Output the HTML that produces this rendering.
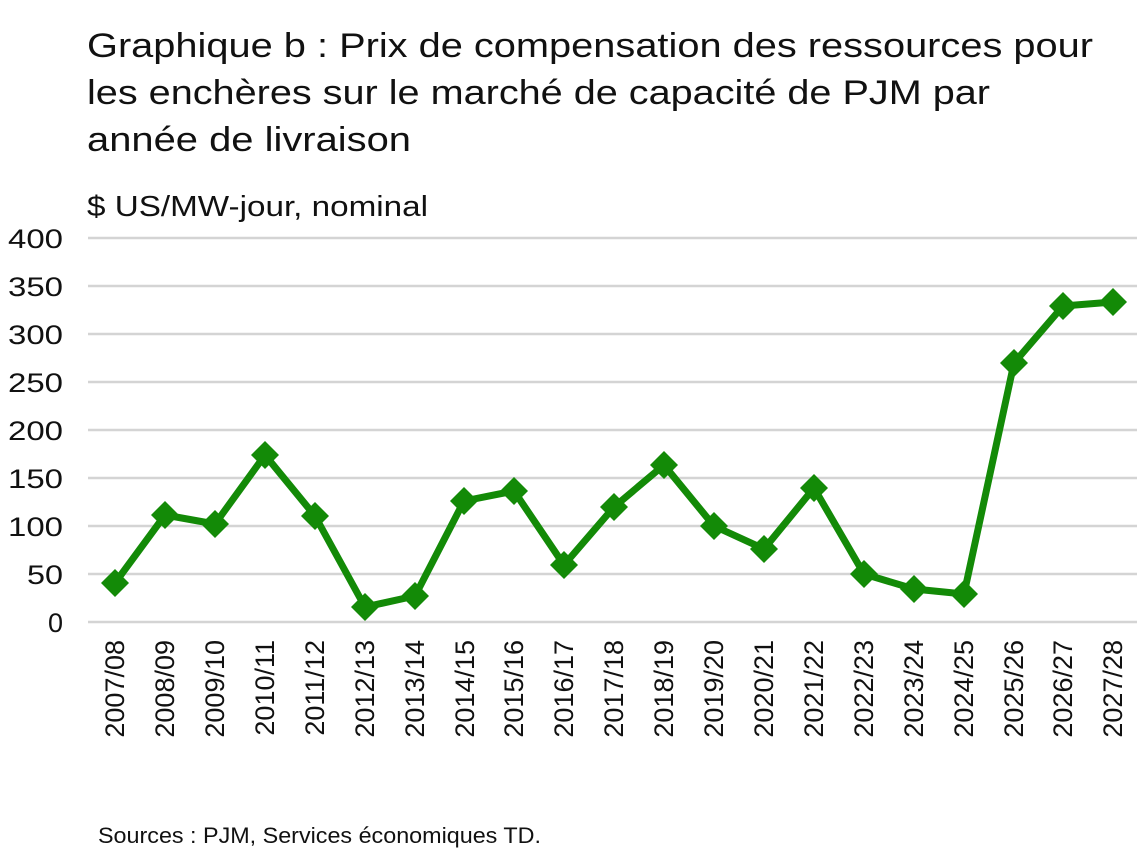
<!DOCTYPE html>
<html><head><meta charset="utf-8"><style>
body{margin:0;background:#fff;}
svg{display:block;font-family:"Liberation Sans",sans-serif;}
</style></head><body>
<svg width="1139" height="850" viewBox="0 0 1139 850">
<g font-size="34" fill="#111" lengthAdjust="spacingAndGlyphs">
<text x="87" y="57" textLength="1006" lengthAdjust="spacingAndGlyphs">Graphique b : Prix de compensation des ressources pour</text>
<text x="87" y="104" textLength="903" lengthAdjust="spacingAndGlyphs">les enchères sur le marché de capacité de PJM par</text>
<text x="87" y="151" textLength="324" lengthAdjust="spacingAndGlyphs">année de livraison</text>
</g>
<text x="87" y="216" font-size="29" fill="#111" textLength="341" lengthAdjust="spacingAndGlyphs">$ US/MW-jour, nominal</text>
<g stroke="#d4d4d4" stroke-width="2.5">
<line x1="88" x2="1137" y1="238" y2="238"/><line x1="88" x2="1137" y1="286" y2="286"/>
<line x1="88" x2="1137" y1="334" y2="334"/><line x1="88" x2="1137" y1="382" y2="382"/>
<line x1="88" x2="1137" y1="430" y2="430"/><line x1="88" x2="1137" y1="478" y2="478"/>
<line x1="88" x2="1137" y1="526" y2="526"/><line x1="88" x2="1137" y1="574" y2="574"/>
<line x1="88" x2="1137" y1="622" y2="622"/>
</g>
<g font-size="27" fill="#111" text-anchor="end">
<text x="63" y="248" textLength="55" lengthAdjust="spacingAndGlyphs">400</text><text x="63" y="296" textLength="55" lengthAdjust="spacingAndGlyphs">350</text><text x="63" y="344" textLength="55" lengthAdjust="spacingAndGlyphs">300</text>
<text x="63" y="392" textLength="55" lengthAdjust="spacingAndGlyphs">250</text><text x="63" y="440" textLength="55" lengthAdjust="spacingAndGlyphs">200</text><text x="63" y="488" textLength="55" lengthAdjust="spacingAndGlyphs">150</text>
<text x="63" y="536" textLength="55" lengthAdjust="spacingAndGlyphs">100</text><text x="63" y="584" textLength="36" lengthAdjust="spacingAndGlyphs">50</text><text x="63" y="632">0</text>
</g>
<g font-size="27" fill="#111" text-anchor="end">
<text transform="translate(124,640) rotate(-90)">2007/08</text>
<text transform="translate(174,640) rotate(-90)">2008/09</text>
<text transform="translate(224,640) rotate(-90)">2009/10</text>
<text transform="translate(274,640) rotate(-90)">2010/11</text>
<text transform="translate(324,640) rotate(-90)">2011/12</text>
<text transform="translate(374,640) rotate(-90)">2012/13</text>
<text transform="translate(424,640) rotate(-90)">2013/14</text>
<text transform="translate(474,640) rotate(-90)">2014/15</text>
<text transform="translate(523,640) rotate(-90)">2015/16</text>
<text transform="translate(573,640) rotate(-90)">2016/17</text>
<text transform="translate(623,640) rotate(-90)">2017/18</text>
<text transform="translate(673,640) rotate(-90)">2018/19</text>
<text transform="translate(723,640) rotate(-90)">2019/20</text>
<text transform="translate(773,640) rotate(-90)">2020/21</text>
<text transform="translate(823,640) rotate(-90)">2021/22</text>
<text transform="translate(873,640) rotate(-90)">2022/23</text>
<text transform="translate(923,640) rotate(-90)">2023/24</text>
<text transform="translate(973,640) rotate(-90)">2024/25</text>
<text transform="translate(1023,640) rotate(-90)">2025/26</text>
<text transform="translate(1072,640) rotate(-90)">2026/27</text>
<text transform="translate(1122,640) rotate(-90)">2027/28</text>
</g>
<polyline fill="none" stroke="#138a07" stroke-width="7" stroke-linejoin="round" points="115,583 165,515 215,524 265,455 315,516 365,607 415,596 464,501 514,491 564,565 614,507 664,465 714,526 764,549 814,488 864,574 914,589 964,594 1014,363 1063,306 1113,302"/>
<g fill="#138a07">
<path d="M115,569l14,14l-14,14l-14,-14z"/><path d="M165,501l14,14l-14,14l-14,-14z"/>
<path d="M215,510l14,14l-14,14l-14,-14z"/><path d="M265,441l14,14l-14,14l-14,-14z"/>
<path d="M315,502l14,14l-14,14l-14,-14z"/><path d="M365,593l14,14l-14,14l-14,-14z"/>
<path d="M415,582l14,14l-14,14l-14,-14z"/><path d="M464,487l14,14l-14,14l-14,-14z"/>
<path d="M514,477l14,14l-14,14l-14,-14z"/><path d="M564,551l14,14l-14,14l-14,-14z"/>
<path d="M614,493l14,14l-14,14l-14,-14z"/><path d="M664,451l14,14l-14,14l-14,-14z"/>
<path d="M714,512l14,14l-14,14l-14,-14z"/><path d="M764,535l14,14l-14,14l-14,-14z"/>
<path d="M814,474l14,14l-14,14l-14,-14z"/><path d="M864,560l14,14l-14,14l-14,-14z"/>
<path d="M914,575l14,14l-14,14l-14,-14z"/><path d="M964,580l14,14l-14,14l-14,-14z"/>
<path d="M1014,349l14,14l-14,14l-14,-14z"/><path d="M1063,292l14,14l-14,14l-14,-14z"/>
<path d="M1113,288l14,14l-14,14l-14,-14z"/>
</g>
<text x="98" y="843" font-size="22" fill="#111" textLength="443" lengthAdjust="spacingAndGlyphs">Sources : PJM, Services économiques TD.</text>
</svg>
</body></html>
